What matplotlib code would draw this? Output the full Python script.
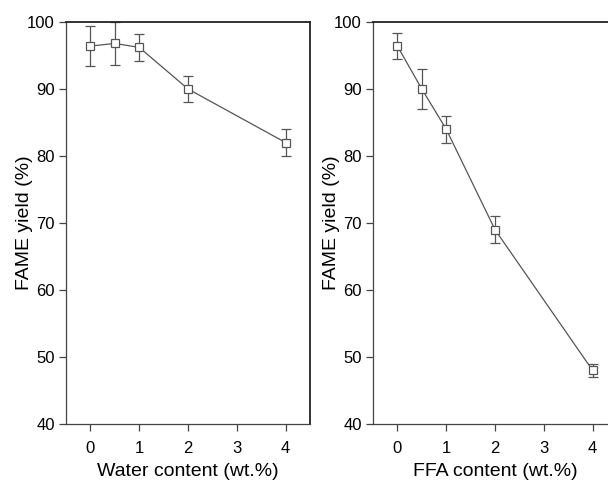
import matplotlib.pyplot as plt

plt.rcParams['font.family'] = ['Liberation Sans', 'DejaVu Sans']

# water content series
water = [0, 0.5, 1, 2, 4]
water_yield = [96.4, 96.8, 96.2, 90.0, 82.0]
water_err = [3.0, 3.2, 2.0, 2.0, 2.0]

# free fatty acid series
ffa = [0, 0.5, 1, 2, 4]
ffa_yield = [96.4, 90.0, 84.0, 69.0, 48.0]
ffa_err = [2.0, 3.0, 2.0, 2.0, 1.0]

xticks = [0, 1, 2, 3, 4]
yticks = [40, 50, 60, 70, 80, 90, 100]

fig = plt.figure(figsize=(6.08, 4.83), dpi=100)
ax1 = fig.add_axes([0.1086, 0.1222, 0.4013, 0.8323])
ax2 = fig.add_axes([0.6135, 0.1222, 0.4013, 0.8323])

gray = '#555555'
for ax, x, y, e, xl in [(ax1, water, water_yield, water_err, 'Water content (wt.%)'),
                        (ax2, ffa, ffa_yield, ffa_err, 'FFA content (wt.%)')]:
    ax.errorbar(x, y, yerr=e, color=gray, lw=0.9, elinewidth=0.9, capsize=3.5,
                capthick=0.9, marker='s', ms=6, mfc='white', mec=gray, mew=0.9,
                clip_on=True)
    ax.set_xlim(-0.5, 4.5)
    ax.set_ylim(40, 100)
    ax.set_xticks(xticks)
    ax.set_yticks(yticks)
    ax.tick_params(direction='out', length=5, width=0.9, color='#444444',
                   labelsize=12, pad=3)
    ax.tick_params(axis='x', pad=7)
    for s in ['left', 'bottom']:
        ax.spines[s].set_linewidth(0.9)
        ax.spines[s].set_color('#444444')
    for s in ['top', 'right']:
        ax.spines[s].set_linewidth(1.3)
        ax.spines[s].set_color('#222222')
    ax.set_xlabel(xl, fontsize=14)
    ax.set_ylabel('FAME yield (%)', fontsize=14)
    ax.xaxis.set_label_coords(0.5, -0.119, transform=ax.transAxes)
    ax.yaxis.set_label_coords(-0.172, 0.5, transform=ax.transAxes)
    ax.xaxis.label.set_va('center')
    ax.yaxis.label.set_va('center')

fig.savefig('out.png', dpi=100)
